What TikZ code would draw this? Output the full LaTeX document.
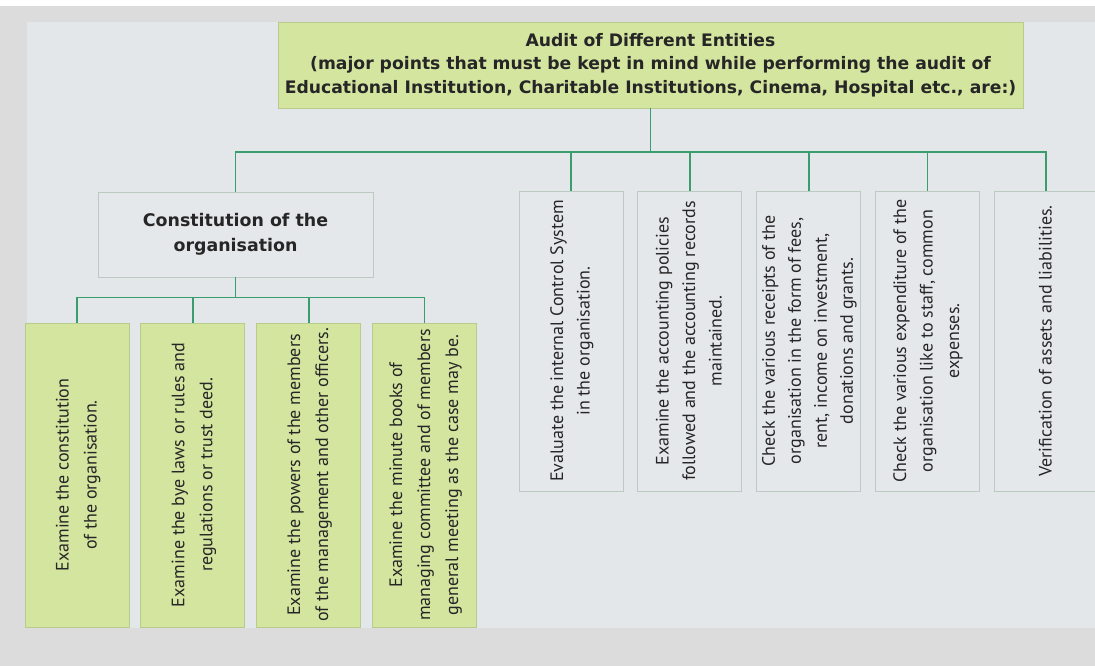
\documentclass[tikz,border=0pt]{standalone}
\usepackage{fontspec}
\setmainfont{PT Sans}
\newfontfamily\headfont{DejaVu Sans}
\usetikzlibrary{positioning}
\definecolor{framegray}{HTML}{DCDCDD}
\definecolor{panelgray}{HTML}{E3E7EA}
\definecolor{boxgreen}{HTML}{D4E5A0}
\definecolor{greenedge}{HTML}{B7CB8C}
\definecolor{boxgray}{HTML}{E5E8EB}
\definecolor{grayedge}{HTML}{BCCAC2}
\definecolor{linkgreen}{HTML}{3A9D70}
\definecolor{textgray}{HTML}{262626}
\newcommand{\vtext}[2][28]{\makebox[0pt]{\rotatebox{90}{\fontsize{18}{#1}\selectfont\begin{tabular}{@{}c@{}}#2\end{tabular}}}}

\begin{document}
\begin{tikzpicture}[x=1pt,y=-1pt,
  green box/.style={draw=greenedge,fill=boxgreen,text=textgray,inner sep=0pt,line width=0.8pt},
  plain box/.style={draw=grayedge,fill=boxgray,text=textgray,inner sep=0pt,line width=0.8pt},
  sub box/.style={green box,minimum width=104pt,minimum height=304pt},
  point box/.style={plain box,minimum width=104pt,minimum height=300pt},
  link/.style={draw=linkgreen,line width=1.8pt}]
  \useasboundingbox (0,0) rectangle (1095,666);
  \fill[white] (0,0) rectangle (1095,666);
  \fill[framegray] (0,6) rectangle (1095,666);
  \fill[panelgray] (27,22) rectangle (1095,628);

  \node[green box,minimum width=745pt,minimum height=86pt,align=center,
        font=\headfont\bfseries\fontsize{17.2}{23.5}\selectfont] (top) at (650.5,65)
    {Audit of Different Entities\\(major points that must be kept in mind while performing the audit of\\Educational Institution, Charitable Institutions, Cinema, Hospital etc., are:)};

  \node[plain box,minimum width=275pt,minimum height=85pt,align=center,
        font=\headfont\bfseries\fontsize{17.4}{25}\selectfont] (org) at (235.5,234.5)
    {Constitution of the\\organisation};

  \node[sub box] (s1) at (77,475) {\vtext{Examine the constitution\\of the organisation.}};
  \node[sub box] (s2) [right=11pt of s1] {\vtext{Examine the bye laws or rules and\\regulations or trust deed.}};
  \node[sub box] (s3) [right=11pt of s2] {\vtext{Examine the powers of the members\\of the management and other officers.}};
  \node[sub box] (s4) [right=11pt of s3] {\vtext{Examine the minute books of\\managing committee and of members\\general meeting as the case may be.}};

  \node[point box] (p1) at (571,341) {\vtext[26.5]{Evaluate the internal Control System\\in the organisation.}};
  \node[point box] (p2) [right=14pt of p1] {\vtext[26.5]{Examine the accounting policies\\followed and the accounting records\\maintained.}};
  \node[point box] (p3) [right=14pt of p2] {\vtext[26]{Check the various receipts of the\\organisation in the form of fees,\\rent, income on investment,\\donations and grants.}};
  \node[point box] (p4) [right=14pt of p3] {\vtext[26.5]{Check the various expenditure of the\\organisation like to staff, common\\expenses.}};
  \node[point box] (p5) [right=14pt of p4] {\vtext[26.5]{Verification of assets and liabilities.}};

  \foreach \n in {org,p1,p2,p3,p4,p5}
    \draw[link] (top.south) -- ++(0,44) -| (\n.north);
  \foreach \n in {s1,s2,s3,s4}
    \draw[link] (org.south) -- ++(0,20) -| (\n.north);
\end{tikzpicture}
\end{document}
